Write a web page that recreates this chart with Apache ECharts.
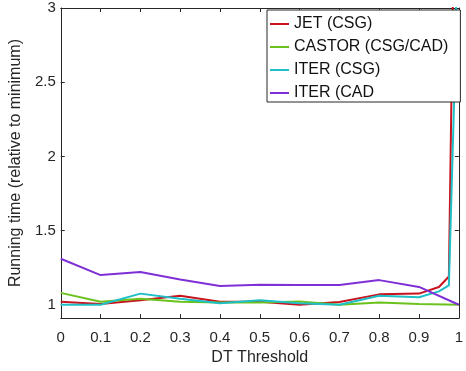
<!DOCTYPE html>
<html>
<head>
<meta charset="utf-8">
<script src="https://cdn.jsdelivr.net/npm/echarts@6/dist/echarts.min.js"></script>
<style>html,body{margin:0;padding:0;background:#fff}#c{width:466px;height:371px}</style>
</head>
<body>
<div id="c"></div>
<script>
// Data
const seriesNames = ['JET (CSG)', 'CASTOR (CSG/CAD)', 'ITER (CSG)', 'ITER (CAD'];
const xJet = [0, 0.1, 0.2, 0.3, 0.4, 0.5, 0.6, 0.7, 0.8, 0.9, 0.95, 0.975, 0.99, 1];
const yJet = [1.02, 1.005, 1.03, 1.06, 1.02, 1.02, 1.0, 1.018, 1.07, 1.075, 1.12, 1.19, 4.0, 6.0];
const xCastor = [0, 0.1, 0.2, 0.3, 0.4, 0.5, 0.6, 0.7, 0.8, 0.9, 1];
const yCastor = [1.08, 1.02, 1.04, 1.02, 1.015, 1.015, 1.022, 1.0, 1.015, 1.005, 1.0];
const xIterCsg = [0, 0.1, 0.2, 0.3, 0.4, 0.5, 0.6, 0.7, 0.8, 0.9, 0.95, 0.975, 0.99, 1];
const yIterCsg = [1.0, 1.0, 1.075, 1.04, 1.01, 1.03, 1.01, 1.0, 1.06, 1.05, 1.09, 1.13, 2.55, 4.0];
const xIterCad = [0, 0.1, 0.2, 0.3, 0.4, 0.5, 0.6, 0.7, 0.8, 0.9, 1];
const yIterCad = [1.31, 1.20, 1.22, 1.17, 1.126, 1.135, 1.133, 1.133, 1.166, 1.12, 1.0];
const xTicks = [0, 0.1, 0.2, 0.3, 0.4, 0.5, 0.6, 0.7, 0.8, 0.9, 1];
const yTicks = [1, 1.5, 2, 2.5, 3];

const colors = ['#c8141e', '#6cc21d', '#1ebfc6', '#7f2fd6'];
const pairs = (xs, ys) => xs.map((x, i) => [x, ys[i]]);
const xsAll = [xJet, xCastor, xIterCsg, xIterCad];
const ysAll = [yJet, yCastor, yIterCsg, yIterCad];

const axisColor = '#262626';
const font = 'Liberation Sans, Arial, Helvetica, sans-serif';

const chart = echarts.init(document.getElementById('c'), null, {renderer: 'canvas'});
chart.setOption({
  animation: false,
  backgroundColor: '#fff',
  color: colors,
  grid: {left: 55, right: 5, top: 8, bottom: 46, containLabel: false},
  legend: {
    orient: 'vertical',
    left: 267, top: 10,
    padding: [6, 12, 1, 3],
    itemGap: 7,
    itemWidth: 19, itemHeight: 2,
    icon: 'rect',
    backgroundColor: '#fff',
    borderColor: axisColor, borderWidth: 1,
    textStyle: {fontFamily: font, fontSize: 16, color: '#111', lineHeight: 16},
    data: seriesNames
  },
  xAxis: [{
    type: 'value', min: 0, max: 1,
    name: 'DT Threshold', nameLocation: 'middle', nameGap: 31,
    nameTextStyle: {fontFamily: font, fontSize: 16, color: axisColor},
    axisLine: {show: true, lineStyle: {color: axisColor, width: 1}},
    axisTick: {show: true, inside: true, length: 4, customValues: xTicks, lineStyle: {color: axisColor}},
    axisLabel: {customValues: xTicks, margin: 12, fontFamily: font, fontSize: 15, color: axisColor,
      formatter: v => String(+v.toFixed(2))},
    splitLine: {show: false}
  }, {
    type: 'value', min: 0, max: 1, position: 'top',
    axisLine: {show: true, onZero: false, lineStyle: {color: axisColor, width: 1}},
    axisTick: {show: true, inside: true, length: 4, customValues: xTicks, lineStyle: {color: axisColor}},
    axisLabel: {show: false}, splitLine: {show: false}
  }],
  yAxis: [{
    type: 'value', min: 0.91, max: 3,
    name: 'Running time (relative to minimum)', nameLocation: 'middle', nameGap: 30,
    nameTextStyle: {fontFamily: font, fontSize: 16, color: axisColor},
    axisLine: {show: true, lineStyle: {color: axisColor, width: 1}},
    axisTick: {show: true, inside: true, length: 4, customValues: yTicks, lineStyle: {color: axisColor}},
    axisLabel: {customValues: yTicks, margin: 5, fontFamily: font, fontSize: 15, color: axisColor,
      formatter: v => String(+v.toFixed(2))},
    splitLine: {show: false}
  }, {
    type: 'value', min: 0.91, max: 3, position: 'right',
    axisLine: {show: true, onZero: false, lineStyle: {color: axisColor, width: 1}},
    axisTick: {show: true, inside: true, length: 4, customValues: yTicks, lineStyle: {color: axisColor}},
    axisLabel: {show: false}, splitLine: {show: false}
  }],
  series: seriesNames.map((n, i) => ({
    name: n, type: 'line', xAxisIndex: 0, yAxisIndex: 0,
    data: pairs(xsAll[i], ysAll[i]),
    showSymbol: false, symbol: 'none', clip: true,
    lineStyle: {width: 2, color: colors[i]},
    itemStyle: {color: colors[i]}
  }))
});
</script>
</body>
</html>
